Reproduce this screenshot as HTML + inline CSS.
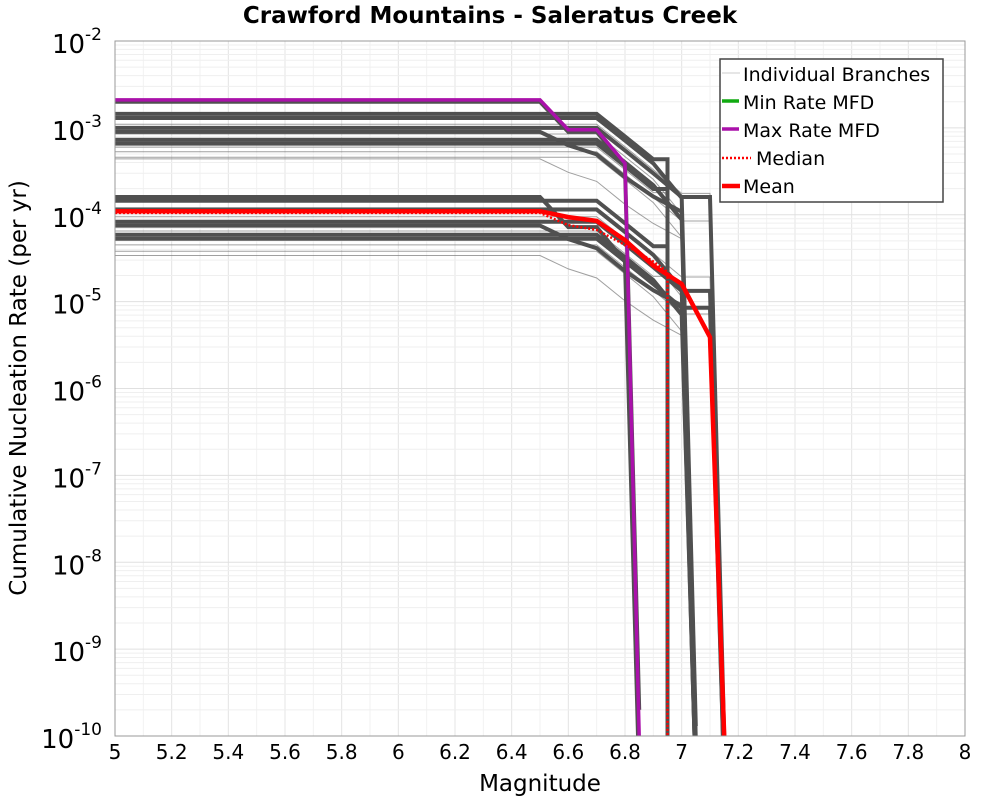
<!DOCTYPE html>
<html><head><meta charset="utf-8">
<style>
body{margin:0;background:#fff;width:1000px;height:800px;overflow:hidden}
svg{font-family:"DejaVu Sans","Liberation Sans",sans-serif}
</style></head>
<body>
<svg id="chart" width="1000" height="800" viewBox="0 0 1000 800" xmlns="http://www.w3.org/2000/svg">
<text x="490" y="23" text-anchor="middle" font-size="23" font-weight="bold">Crawford Mountains - Saleratus Creek</text>
<g id="grid"></g>
<g id="series"></g>
<rect x="115" y="41" width="850" height="695" fill="none" stroke="#999" stroke-width="1"/>
<g id="axes"></g>
<text x="540" y="791" text-anchor="middle" font-size="23">Magnitude</text>
<text transform="translate(26,388) rotate(-90)" text-anchor="middle" font-size="23">Cumulative Nucleation Rate (per yr)</text>
<g>
<rect x="720" y="59" width="223" height="143" fill="#fff" stroke="#444" stroke-width="1.5"/>
<g><line x1="722" y1="73" x2="740" y2="73" stroke="#ccc" stroke-width="1"/><text x="743" y="81" font-size="19">Individual Branches</text></g>
<g><line x1="722" y1="101" x2="739" y2="101" stroke="#11aa11" stroke-width="3.5"/><text x="743" y="109" font-size="19">Min Rate MFD</text></g>
<g><line x1="722" y1="129" x2="739" y2="129" stroke="#aa11aa" stroke-width="3.5"/><text x="743" y="137" font-size="19">Max Rate MFD</text></g>
<g><line x1="722" y1="158" x2="751" y2="158" stroke="#f00" stroke-width="2.5" stroke-dasharray="2,2"/><text x="756" y="165" font-size="19">Median</text></g>
<g><line x1="722" y1="186" x2="740" y2="186" stroke="#f00" stroke-width="4.5"/><text x="743" y="193" font-size="19">Mean</text></g>
</g>
</svg>
<script>
// ---- data ----
const xTicks=[5,5.2,5.4,5.6,5.8,6,6.2,6.4,6.6,6.8,7,7.2,7.4,7.6,7.8,8];
const yExps=[-2,-3,-4,-5,-6,-7,-8,-9,-10];
const shapeMags=[
 [5,6.5,6.6,6.7,6.8,6.85],
 [5,6.7,6.8,6.9,6.95,6.95],
 [5,6.7,6.8,6.9,7.0,7.05],
 [5,6.7,6.8,6.9,7.0,7.1,7.15],
 [5,6.5,6.6,6.7,6.8,6.9,7.0,7.05]
];
const shapeRatios=[
 [1,1,0.45,0.45,0.18,1e-7],
 [1,1,0.55,0.3,0.3,1e-7],
 [1,1,0.55,0.3,0.12,1e-7],
 [1,1,0.55,0.3,0.16,0.16,1e-7],
 [1,1,0.7,0.55,0.3,0.18,0.12,1e-7]
];
const thickRates=[2.0e-3,1.45e-3,1.3e-3,1.0e-3,9.0e-4,7.3e-4,6.6e-4,1.6e-4,1.45e-4,1.15e-4,8.3e-5,7.5e-5,5.9e-5,5.3e-5];
const thickShapes=[0,1,2,3,4,2,1,0,1,2,3,4,2,3];
const thinRates=[1.1e-3,8.5e-4,6.0e-4,5.3e-4,4.6e-4,4.4e-4,1.2e-4,9.5e-5,6.5e-5,4.5e-5,3.8e-5,3.4e-5];
const thinShapes=[3,2,1,3,2,4,3,2,1,3,2,4];
const meanMags=[5,6.5,6.6,6.7,6.8,6.9,7.0,7.1,7.15];
const meanVals=[1.1e-4,1.1e-4,9.4e-5,8.5e-5,5.1e-5,2.6e-5,1.6e-5,3.9e-6,1e-10];
const medianMags=[5,6.5,6.6,6.7,6.8,6.9,6.95,6.95];
const medianVals=[1.05e-4,1.05e-4,7.6e-5,6.7e-5,4.5e-5,2.9e-5,2.2e-5,1e-10];
const maxMags=[5,6.5,6.6,6.7,6.8,6.85];
const maxVals=[2.1e-3,2.1e-3,9.5e-4,9.5e-4,3.9e-4,1e-10];

// ---- axes ----
const NS="http://www.w3.org/2000/svg";
const X=m=>115+(m-5)*(850/3);
const Y=v=>{const l=Math.max(Math.log10(v),-10.5);return 41+(-2-l)*(695/8);};
function mk(tag,attrs,parent){const e=document.createElementNS(NS,tag);for(const k in attrs)e.setAttribute(k,attrs[k]);parent.appendChild(e);return e;}
const grid=document.getElementById('grid'),axes=document.getElementById('axes'),series=document.getElementById('series');
for(let i=0;i<=30;i++){const m=5+i*0.1;
 const l=mk('line',{x1:X(m),x2:X(m),y1:41,y2:736,stroke:i%2?'#f2f2f2':'#e4e4e4','stroke-width':1},grid);
 
 }
for(let e=-10;e<-2;e++){for(let k=1;k<10;k++){const v=k*Math.pow(10,e);
 const l=mk('line',{x1:115,x2:965,y1:Y(v),y2:Y(v),stroke:k==1?'#e0e0e0':'#efefef','stroke-width':1},grid);
 
 }}
xTicks.forEach(t=>{const tx=mk('text',{x:X(t),y:759,'text-anchor':'middle','font-size':20},axes);tx.textContent=String(t);
 
 });
yExps.forEach(e=>{const tx=mk('text',{x:102,y:Y(Math.pow(10,e))+12,'text-anchor':'end','font-size':26},axes);
 
 
 tx.appendChild(document.createTextNode('10'));
 const s=mk('tspan',{dy:-13,'font-size':17},tx);s.textContent=String(e);});

function pathFrom(mags,vals){return mags.map((m,i)=>(i?'L':'M')+X(m).toFixed(1)+','+Y(vals[i]).toFixed(1)).join(' ');}
const cp=mk('clipPath',{id:'pc'},mk('defs',{},series));mk('rect',{x:115,y:41,width:850,height:695},cp);
series.setAttribute('clip-path','url(#pc)');
thinRates.forEach((r,i)=>{const s=thinShapes[i];
 const p=mk('path',{d:pathFrom(shapeMags[s],shapeRatios[s].map(q=>q*r)),fill:'none',stroke:'#777','stroke-opacity':0.7,'stroke-width':1},series);
 
 });
thickRates.forEach((r,i)=>{const s=thickShapes[i];
 const p=mk('path',{d:pathFrom(shapeMags[s],shapeRatios[s].map(q=>q*r)),fill:'none',stroke:'#505050','stroke-width':4},series);
 
 });
let p=mk('path',{d:pathFrom(maxMags,maxVals),fill:'none',stroke:'#aa11aa','stroke-width':3.5},series);


p=mk('path',{d:pathFrom(medianMags,medianVals),fill:'none',stroke:'#f00','stroke-width':2.5,'stroke-dasharray':'2,2'},series);


p=mk('path',{d:pathFrom(meanMags,meanVals),fill:'none',stroke:'#f00','stroke-width':4.5},series);


</script>
</body></html>
